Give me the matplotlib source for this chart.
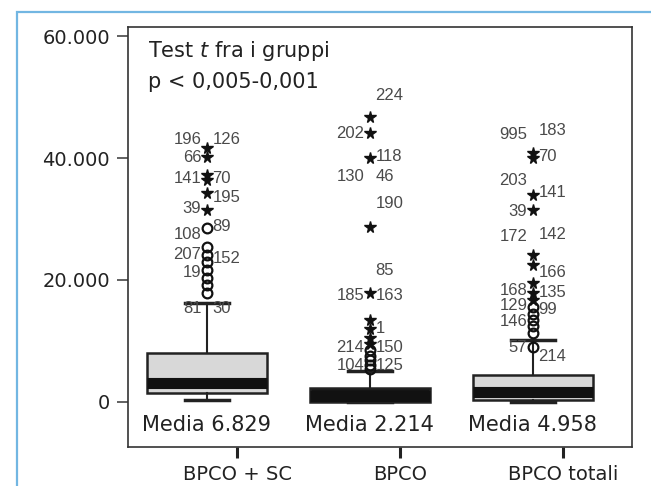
import numpy as np
import matplotlib
matplotlib.use("Agg")
import matplotlib.pyplot as plt
from matplotlib.patches import Rectangle

# gruppi e medie
gruppi = ["BPCO + SC", "BPCO", "BPCO totali"]
medie = ["6.829", "2.214", "4.958"]

# statistiche dei box
q1 = [1500, 0, 330]
mediane = [3100, 1000, 1640]
q3 = [8000, 2300, 4430]
baffo_basso = [330, 0, 0]
baffo_alto = [16200, 5000, 10100]

# outlier (cerchi) ed estremi (stelle)
cerchi = [
    [28500, 25400, 24100, 22950, 21630, 20320, 19180, 17870],
    [8500, 7600, 6800, 6000, 5400],
    [15570, 14420, 13440, 12460, 11310, 9000],
]
stelle = [
    [41630, 40160, 37200, 36390, 34260, 31470],
    [46760, 44040, 39940, 28730, 17910, 13440, 12000, 10500, 9500],
    [40760, 40000, 33930, 31470, 24090, 22450, 19500, 17870, 16720],
]

# etichette dei casi: (testo, valore, lato)
etichette = [
    [("196", 43100, "l"), ("126", 43100, "r"), ("66", 40160, "l"),
     ("141", 36700, "l"), ("70", 36700, "r"), ("195", 33600, "r"),
     ("39", 31800, "l"), ("108", 27400, "l"), ("89", 28700, "r"),
     ("207", 24100, "l"), ("152", 23600, "r"), ("19", 21300, "l"),
     ("81", 15400, "l"), ("30", 15400, "r")],
    [("224", 50300, "r"), ("202", 44040, "l"), ("118", 40200, "r"),
     ("130", 36900, "l"), ("46", 36900, "r"), ("190", 32600, "r"),
     ("85", 21600, "r"), ("185", 17500, "l"), ("163", 17500, "r"),
     ("1", 12100, "r"), ("214", 9000, "l"), ("150", 9000, "r"),
     ("104", 6000, "l"), ("125", 6000, "r")],
    [("995", 43800, "l"), ("183", 44600, "r"), ("70", 40300, "r"),
     ("203", 36400, "l"), ("141", 34300, "r"), ("39", 31200, "l"),
     ("172", 27100, "l"), ("142", 27400, "r"), ("166", 21300, "r"),
     ("168", 18300, "l"), ("135", 17900, "r"), ("129", 15800, "l"),
     ("99", 15200, "r"), ("146", 13200, "l"), ("57", 8900, "l"),
     ("214", 7400, "r")],
]

tick_pos = np.arange(1, 4)
box_pos = tick_pos - 0.185

fig = plt.figure(figsize=(6.51, 4.86), dpi=100)
ax = fig.add_axes([128 / 651, 39 / 486, 504 / 651, 420 / 486])

# cornice azzurra
fig.add_artist(Rectangle((17 / 651, -0.1), 1.2, (486 - 12.5) / 486 + 0.1,
                         transform=fig.transFigure, fill=False,
                         edgecolor="#72b6e2", linewidth=1.6))

stats = []
for i in range(3):
    stats.append(dict(q1=q1[i], med=mediane[i], q3=q3[i],
                      whislo=baffo_basso[i], whishi=baffo_alto[i], fliers=[]))

bp = ax.bxp(stats, positions=box_pos, widths=0.74, capwidths=0.27,
            patch_artist=True, showfliers=False,
            boxprops=dict(edgecolor="#222222", linewidth=1.8),
            medianprops=dict(color="#111111", linewidth=8, solid_capstyle="butt"),
            whiskerprops=dict(color="#222222", linewidth=1.5),
            capprops=dict(color="#222222", linewidth=2.5))
for patch, fc in zip(bp["boxes"], ["#d8d8d8", "#151515", "#d8d8d8"]):
    patch.set_facecolor(fc)

for i in range(3):
    x = box_pos[i]
    ax.plot(np.full(len(cerchi[i]), x), cerchi[i], "o", ms=7,
            mfc="none", mec="#111111", mew=1.6, zorder=4)
    ax.plot(np.full(len(stelle[i]), x), stelle[i], "*", ms=8.5,
            color="#111111", zorder=4)
    for txt, val, lato in etichette[i]:
        dx = -4 if lato == "l" else 4
        ax.annotate(txt, (x, val), xytext=(dx, 0), textcoords="offset points",
                    ha="right" if lato == "l" else "left", va="center",
                    fontsize=12, color="#4a4a4a", family="Liberation Sans")
    ax.text(x, -3800, "Media " + medie[i], ha="center", va="center",
            fontsize=15, color="#222222")

ax.text(0.039, 0.943, "Test $\\it{t}$ fra i gruppi", transform=ax.transAxes,
        fontsize=15, color="#222222", va="center")
ax.text(0.039, 0.869, "p < 0,005-0,001", transform=ax.transAxes,
        fontsize=15, color="#222222", va="center")

ax.set_xlim(0.331, 3.423)
ax.set_ylim(-7400, 61500)
ax.set_yticks([0, 20000, 40000, 60000])
ax.set_yticklabels(["0", "20.000", "40.000", "60.000"])
ax.set_xticks(tick_pos)
ax.set_xticklabels(gruppi)
ax.tick_params(axis="y", length=8, width=1.3, color="#555555", pad=5,
               labelsize=14, labelcolor="#222222")
ax.tick_params(axis="x", length=8, width=2.2, color="#222222", pad=5,
               labelsize=14, labelcolor="#222222")
for sp in ax.spines.values():
    sp.set_color("#333333")
    sp.set_linewidth(1.2)

fig.savefig("out.png", dpi=100)
